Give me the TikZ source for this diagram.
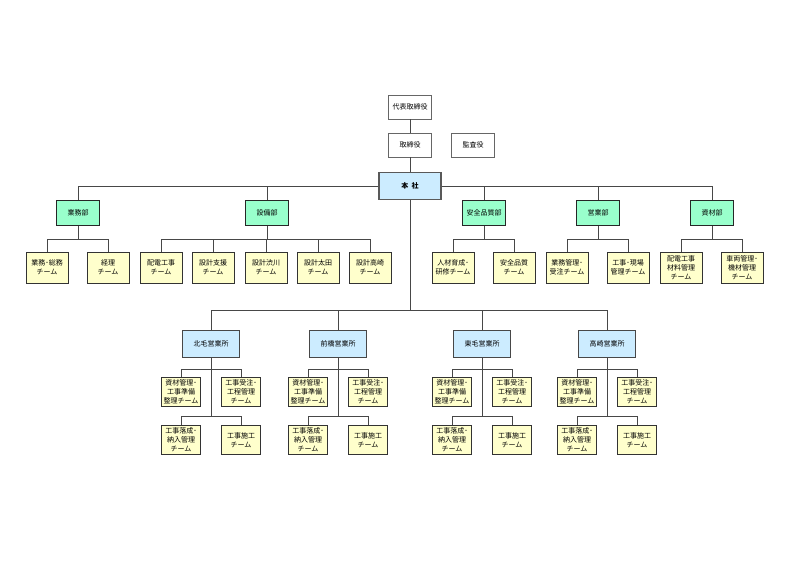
\documentclass[tikz,border=0pt]{standalone}
\usepackage{fontspec}
\setmainfont{Noto Sans CJK JP}
\definecolor{greenF}{HTML}{99FFCC}
\definecolor{yellowF}{HTML}{FFFFCC}
\definecolor{blueF}{HTML}{CCECFF}
\begin{document}
\begin{tikzpicture}[x=1pt,y=-1pt,
  every node/.style={font=\fontsize{7}{9}\selectfont, align=center, inner sep=0pt},
  conn/.style={draw=black!72, line width=0.8pt},
  topbox/.style={draw=black!60, fill=white, line width=0.8pt, minimum width=43pt, minimum height=24pt},
  hqbox/.style={draw=black!65, fill=blueF, line width=1.8pt, minimum width=62pt, minimum height=27pt, font=\fontsize{7}{9}\selectfont\bfseries},
  deptbox/.style={draw=black!85, fill=greenF, line width=1.6pt, minimum width=43pt, minimum height=25pt},
  teambox/.style={draw=black!80, fill=yellowF, line width=0.7pt, minimum width=42pt, minimum height=31pt},
  branchbox/.style={draw=black!72, fill=blueF, line width=1.5pt, minimum width=57pt, minimum height=27pt},
  subbox/.style={draw=black!80, fill=yellowF, line width=0.7pt, minimum width=39pt, minimum height=29pt}]
\fill[white] (0,0) rectangle (800,566);
\useasboundingbox (0,0) rectangle (800,566);

% top
\node[topbox] (ceo) at (410,107) {代表取締役};
\node[topbox] (dir) at (410,145) {取締役};
\node[topbox] (aud) at (473,145) {監査役};
\node[hqbox] (hq) at (410,186) {本\ \ 社};

% departments
\node[deptbox] (d1) at (78,213) {業務部};
\node[deptbox] (d2) at (267,213) {設備部};
\node[deptbox] (d3) at (484,213) {安全品質部};
\node[deptbox] (d4) at (598,213) {営業部};
\node[deptbox] (d5) at (712,213) {資材部};

% teams
\node[teambox] (t1a) at (47,267.5) {業務･総務\\チーム};
\node[teambox] (t1b) at (108,267.5) {経理\\チーム};
\node[teambox] (t2a) at (161,267.5) {配電工事\\チーム};
\node[teambox] (t2b) at (213,267.5) {設計支援\\チーム};
\node[teambox] (t2c) at (266,267.5) {設計渋川\\チーム};
\node[teambox] (t2d) at (318,267.5) {設計太田\\チーム};
\node[teambox] (t2e) at (370,267.5) {設計高崎\\チーム};
\node[teambox] (t3a) at (453,267.5) {人材育成･\\研修チーム};
\node[teambox] (t3b) at (514,267.5) {安全品質\\チーム};
\node[teambox] (t4a) at (567,267.5) {業務管理･\\受注チーム};
\node[teambox] (t4b) at (628,267.5) {工事･現場\\管理チーム};
\node[teambox] (t5a) at (681,267.5) {配電工事\\材料管理\\チーム};
\node[teambox] (t5b) at (742,267.5) {車両管理･\\機材管理\\チーム};

\coordinate (busT) at (0,239);
\coordinate (busB) at (0,310);
\coordinate (busS1) at (0,369);
\coordinate (busS2) at (0,416);

% connectors top
\draw[conn] (ceo) -- (dir);
\draw[conn] (dir) -- (hq);
\draw[conn] (hq.west) -| (d1.north);
\draw[conn] (hq.east) -| (d5.north);
\foreach \d in {d2,d3,d4}{\draw[conn] (\d.north) -- (\d.north |- hq.west);}
\foreach \d in {d1,d2,d3,d4,d5}{\draw[conn] (\d.south) -- (\d.south |- busT);}
\draw[conn] (t1a.north) |- (busT -| t1b.north) -- (t1b.north);
\draw[conn] (t2a.north) |- (busT -| t2e.north) -- (t2e.north);
\foreach \t in {t2b,t2c,t2d}{\draw[conn] (\t.north) -- (\t.north |- busT);}
\draw[conn] (t3a.north) |- (busT -| t3b.north) -- (t3b.north);
\draw[conn] (t4a.north) |- (busT -| t4b.north) -- (t4b.north);
\draw[conn] (t5a.north) |- (busT -| t5b.north) -- (t5b.north);

% branches
\foreach \i/\x/\nm in {1/211/北毛営業所,2/338/前橋営業所,3/482/東毛営業所,4/607/高崎営業所}{
  \node[branchbox] (e\i) at (\x,344) {\nm};
  \node[subbox] (e\i a) at (\x-30,391.5) {資材管理･\\工事準備\\整理チーム};
  \node[subbox] (e\i b) at (\x+30,391.5) {工事受注･\\工程管理\\チーム};
  \node[subbox] (e\i c) at (\x-30,440) {工事落成･\\納入管理\\チーム};
  \node[subbox] (e\i d) at (\x+30,440) {工事施工\\チーム};
  \draw[conn] (e\i.south) -- (e\i.south |- busS2);
  \draw[conn] (e\i a.north) |- (busS1 -| e\i b.north) -- (e\i b.north);
  \draw[conn] (e\i c.north) |- (busS2 -| e\i d.north) -- (e\i d.north);
}
\draw[conn] (hq.south) -- (hq.south |- busB);
\draw[conn] (e1.north) |- (busB -| e4.north) -- (e4.north);
\draw[conn] (e2.north) -- (e2.north |- busB);
\draw[conn] (e3.north) -- (e3.north |- busB);
\end{tikzpicture}
\end{document}
